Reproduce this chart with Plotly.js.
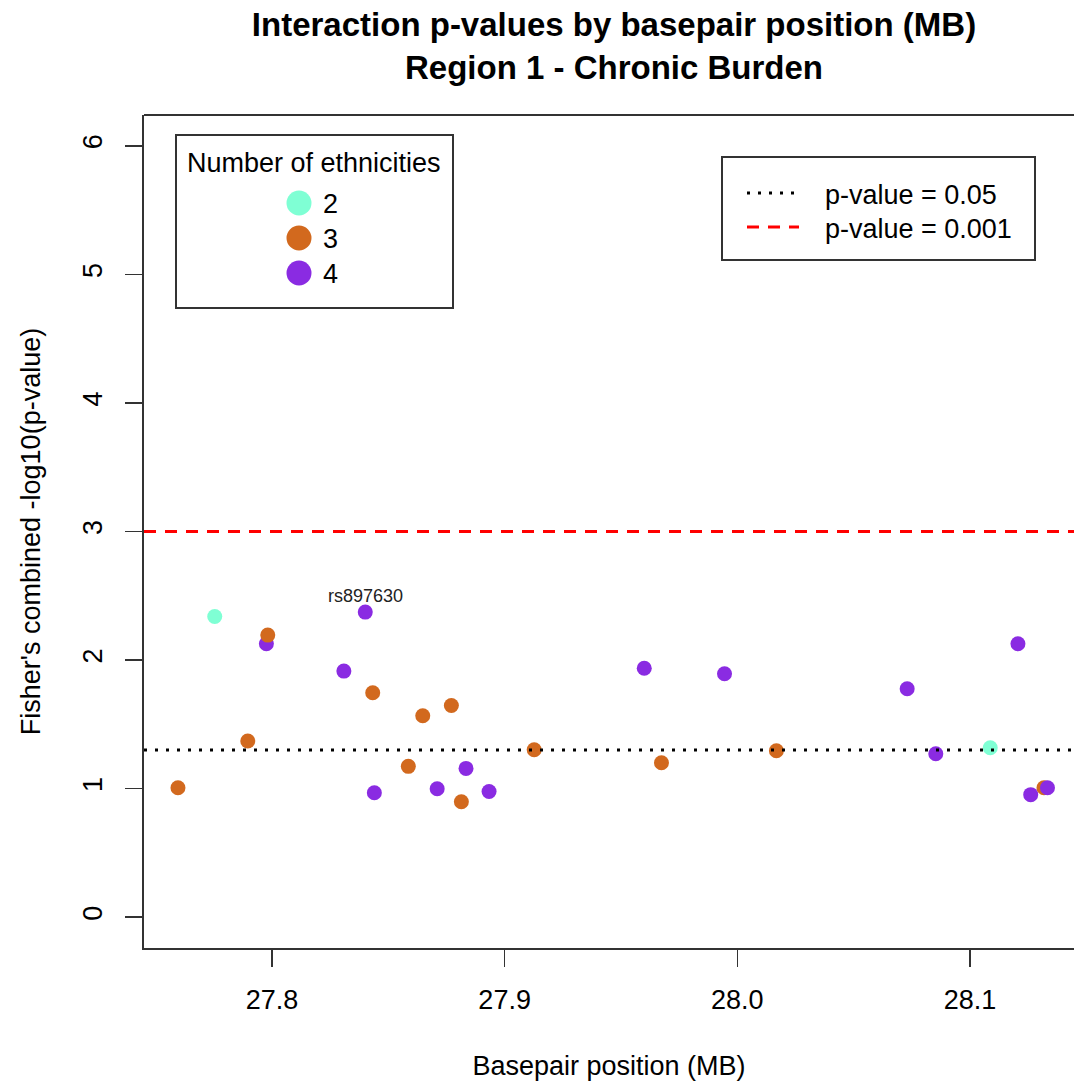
<!DOCTYPE html>
<html><head><meta charset="utf-8">
<script src="https://cdn.plot.ly/plotly-3.0.1.min.js"></script>
<style>html,body{margin:0;padding:0;background:#fff}</style>
</head><body>
<div id="chart" style="width:1074px;height:1089px"></div>
<script>
// ---- data ----
const positionMB = [27.7596, 27.7754, 27.7896, 27.7976, 27.7982, 27.8309, 27.8401, 27.8433, 27.8440, 27.8586,
  27.8648, 27.8710, 27.8771, 27.8814, 27.8834, 27.8933, 27.9127, 27.9600, 27.9674, 27.9945,
  28.0168, 28.0730, 28.0853, 28.1087, 28.1206, 28.1261, 28.1318, 28.1333];
const negLog10P = [1.007, 2.339, 1.370, 2.127, 2.194, 1.914, 2.373, 1.746, 0.968, 1.173,
  1.567, 0.999, 1.647, 0.898, 1.157, 0.978, 1.302, 1.936, 1.201, 1.893,
  1.295, 1.777, 1.271, 1.318, 2.127, 0.953, 1.007, 1.007];
const nEthnicities = [3, 2, 3, 4, 3, 4, 4, 3, 4, 3,
  3, 4, 3, 3, 4, 4, 3, 4, 3, 4,
  3, 4, 4, 2, 4, 4, 3, 4];
const snpLabels = ['', '', '', '', '', '', 'rs897630', '', '', '',
  '', '', '', '', '', '', '', '', '', '',
  '', '', '', '', '', '', '', ''];
const ethnicityLevels = [2, 3, 4];
const ethnicityColors = ['#7FFFD4', '#D2691E', '#8A2BE2'];
const thresholdP = [0.05, 0.001];
const thresholdLabels = ['p-value = 0.05', 'p-value = 0.001'];
const thresholdColors = ['#000000', '#FF0000'];
const thresholdDash = ['3px,8px', '12px,9px'];
const xTickVals = [27.8, 27.9, 28.0, 28.1];
const xTickText = ['27.8', '27.9', '28.0', '28.1'];
const yTickVals = [0, 1, 2, 3, 4, 5, 6];

// ---- layout helpers (pixel -> paper) ----
const PL = 144, PR = 1074, PT = 115, PB = 948;
const px = v => (v - PL) / (PR - PL);
const py = v => (PB - v) / (PB - PT);
const FONT = 'Liberation Sans, Arial, sans-serif';
const FS = 27;

const colorOf = n => ethnicityColors[ethnicityLevels.indexOf(n)];

const points = {
  type: 'scatter', mode: 'markers',
  x: positionMB, y: negLog10P,
  marker: {size: 15, color: nEthnicities.map(colorOf), line: {width: 0}},
  showlegend: false, hoverinfo: 'x+y'
};

const shapes = [];
const annotations = [];

// SNP labels above points
snpLabels.forEach((lab, i) => {
  if (!lab) return;
  annotations.push({xref: 'x', yref: 'y', x: positionMB[i], y: negLog10P[i], text: lab,
    showarrow: false, xanchor: 'center', yanchor: 'middle', yshift: 16,
    font: {family: FONT, size: 18, color: '#222'}});
});

// threshold lines
thresholdP.forEach((p, i) => {
  shapes.push({type: 'line', xref: 'paper', yref: 'y', x0: 0, x1: 1,
    y0: -Math.log10(p), y1: -Math.log10(p),
    line: {color: thresholdColors[i], width: 3, dash: thresholdDash[i]}});
});

// top frame line
shapes.push({type: 'line', xref: 'paper', yref: 'paper', x0: 0, x1: 1, y0: 1, y1: 1,
  line: {color: '#333', width: 2}});

// legend 1: number of ethnicities
shapes.push({type: 'rect', xref: 'paper', yref: 'paper', x0: px(176), x1: px(453), y0: py(308), y1: py(135),
  line: {color: '#333', width: 2}, fillcolor: 'rgba(255,255,255,1)', layer: 'above'});
annotations.push({xref: 'paper', yref: 'paper', x: px(314), y: py(163), text: 'Number of ethnicities',
  showarrow: false, xanchor: 'center', yanchor: 'middle', font: {family: FONT, size: FS, color: '#000'}});
ethnicityLevels.forEach((lv, i) => {
  const cy = 203 + 35 * i;
  shapes.push({type: 'circle', xref: 'paper', yref: 'paper', xsizemode: 'pixel', ysizemode: 'pixel',
    xanchor: px(299), yanchor: py(cy), x0: -12.5, x1: 12.5, y0: -12.5, y1: 12.5,
    fillcolor: ethnicityColors[i], line: {width: 0}, layer: 'above'});
  annotations.push({xref: 'paper', yref: 'paper', x: px(321), y: py(cy + 1), text: String(lv),
    showarrow: false, xanchor: 'left', yanchor: 'middle', font: {family: FONT, size: FS, color: '#000'}});
});

// legend 2: thresholds
shapes.push({type: 'rect', xref: 'paper', yref: 'paper', x0: px(722), x1: px(1035), y0: py(260), y1: py(157),
  line: {color: '#333', width: 2}, fillcolor: 'rgba(255,255,255,1)', layer: 'above'});
thresholdLabels.forEach((lab, i) => {
  const cy = 193 + 34 * i;
  shapes.push({type: 'line', xref: 'paper', yref: 'paper', x0: px(747), x1: px(799), y0: py(cy), y1: py(cy),
    line: {color: thresholdColors[i], width: 3, dash: thresholdDash[i]}, layer: 'above'});
  annotations.push({xref: 'paper', yref: 'paper', x: px(823), y: py(cy + 2), text: lab,
    showarrow: false, xanchor: 'left', yanchor: 'middle', font: {family: FONT, size: FS, color: '#000'}});
});

const layout = {
  width: 1074, height: 1089,
  margin: {l: PL, r: 1074 - PR, t: PT, b: 1089 - PB, pad: 0},
  paper_bgcolor: '#fff', plot_bgcolor: '#fff',
  font: {family: FONT, size: FS, color: '#000'},
  title: {
    text: 'Interaction p-values by basepair position (MB)<br>Region 1 - Chronic Burden',
    font: {family: FONT, size: 33, weight: 'bold', color: '#000'},
    xref: 'container', x: 0.5717, xanchor: 'center',
    yref: 'container', y: 1 - 36 / 1089, yanchor: 'top'
  },
  xaxis: {
    range: [27.745, 28.1447], tickvals: xTickVals, ticktext: xTickText,
    ticks: 'outside', ticklen: 17, tickwidth: 1.5, tickcolor: '#333',
    showline: true, linecolor: '#333', linewidth: 2, mirror: false,
    showgrid: false, zeroline: false,
    tickfont: {family: FONT, size: FS, color: '#000'}, ticklabelstandoff: 10,
    title: {text: 'Basepair position (MB)', font: {family: FONT, size: FS, color: '#000'}, standoff: 42}
  },
  yaxis: {
    range: [-0.24, 6.24], tickvals: yTickVals,
    ticks: 'outside', ticklen: 17, tickwidth: 1.5, tickcolor: '#333',
    showline: true, linecolor: '#333', linewidth: 2,
    showgrid: false, zeroline: false, tickangle: -90,
    tickfont: {family: FONT, size: FS, color: '#000'}, ticklabelstandoff: 12,
    title: {text: "Fisher's combined -log10(p-value)", font: {family: FONT, size: FS, color: '#000'}, standoff: 30}
  },
  shapes: shapes,
  annotations: annotations,
  showlegend: false
};

Plotly.newPlot('chart', [points], layout, {displayModeBar: false, staticPlot: true});
</script>
</body></html>
